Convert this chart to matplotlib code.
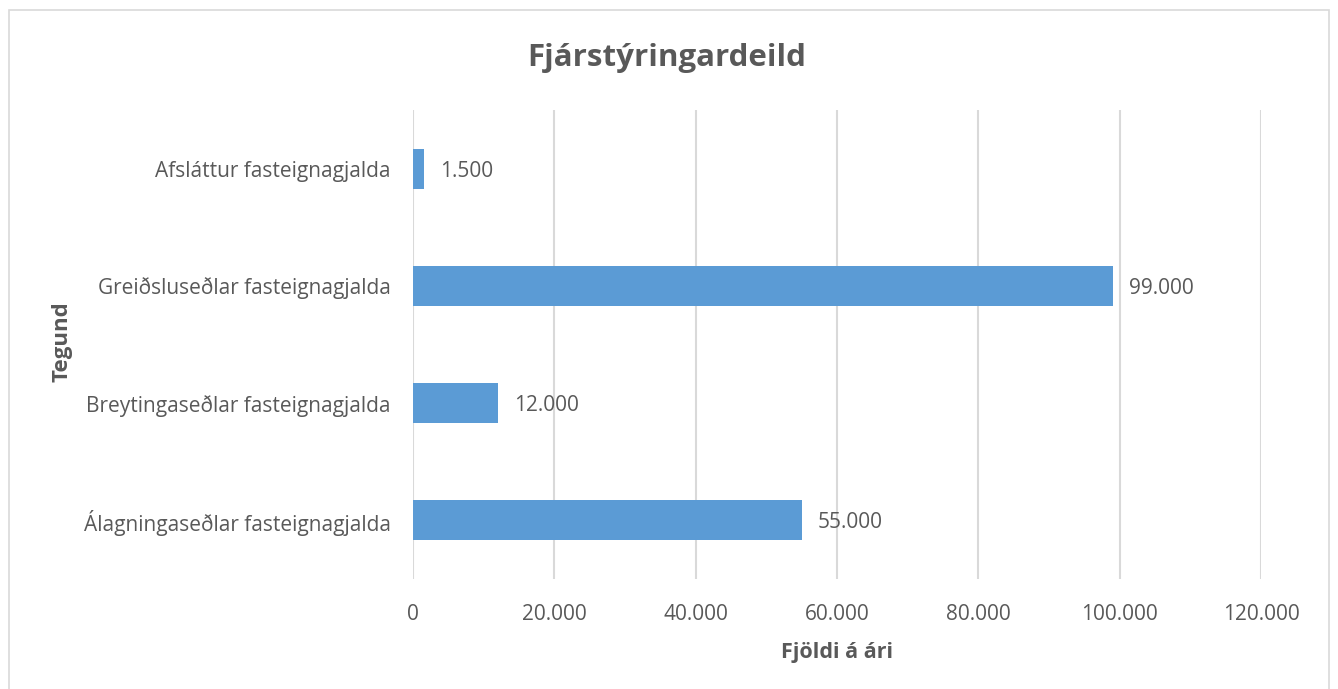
import matplotlib.pyplot as plt
from matplotlib.patches import Rectangle
from matplotlib.ticker import FuncFormatter

# data
categories = ['Álagningaseðlar fasteignagjalda',
              'Breytingaseðlar fasteignagjalda',
              'Greiðsluseðlar fasteignagjalda',
              'Afsláttur fasteignagjalda']
values = [55000, 12000, 99000, 1500]
x_ticks = [0, 20000, 40000, 60000, 80000, 100000, 120000]

TEXT = '#595959'
BAR = '#5B9BD5'
GRID = '#D9D9D9'

plt.rcParams['font.family'] = ['Open Sans', 'DejaVu Sans']


def dot_thousands(v, pos=None):
    return f'{int(round(v)):,}'.replace(',', '.')


fig = plt.figure(figsize=(13.38, 6.89), dpi=100)
fig.patches.append(Rectangle((9 / 1338, -0.01), 1320 / 1338, 1 - 10 / 689 + 0.01,
                             transform=fig.transFigure, fill=False,
                             edgecolor=GRID, linewidth=1.2))

ax = fig.add_axes([413 / 1338, 1 - 579 / 689, 848 / 1338, 469 / 689])
ypos = list(range(len(categories)))
ax.barh(ypos, values, height=0.34, color=BAR, zorder=3)

for y, v in zip(ypos, values):
    ax.text(v + 2300, y, dot_thousands(v), va='center_baseline', ha='left',
            fontsize=15, color=TEXT)

ax.set_xlim(0, 120000)
ax.set_ylim(-0.5, len(categories) - 0.5)
ax.set_xticks(x_ticks)
ax.xaxis.set_major_formatter(FuncFormatter(dot_thousands))
ax.set_yticks(ypos)
ax.set_yticklabels(categories)
ax.tick_params(axis='both', length=0, labelsize=15, labelcolor=TEXT)
ax.tick_params(axis='x', pad=18)
ax.tick_params(axis='y', pad=16)
ax.grid(axis='x', color=GRID, linewidth=1.5, zorder=0)
for side in ['top', 'right', 'bottom', 'left']:
    ax.spines[side].set_visible(False)

ax.set_xlabel('Fjöldi á ári', fontsize=15.5, fontweight='bold', color=TEXT, labelpad=12)
fig.text(62 / 1338, 1 - 342 / 689, 'Tegund', rotation=90, fontsize=16,
         fontweight='bold', color=TEXT, ha='center', va='center')
fig.text(667 / 1338, 1 - 58 / 689, 'Fjárstýringardeild', fontsize=22.5,
         fontweight='bold', color=TEXT, ha='center', va='center')

fig.savefig('out.png', dpi=100, facecolor='white')
